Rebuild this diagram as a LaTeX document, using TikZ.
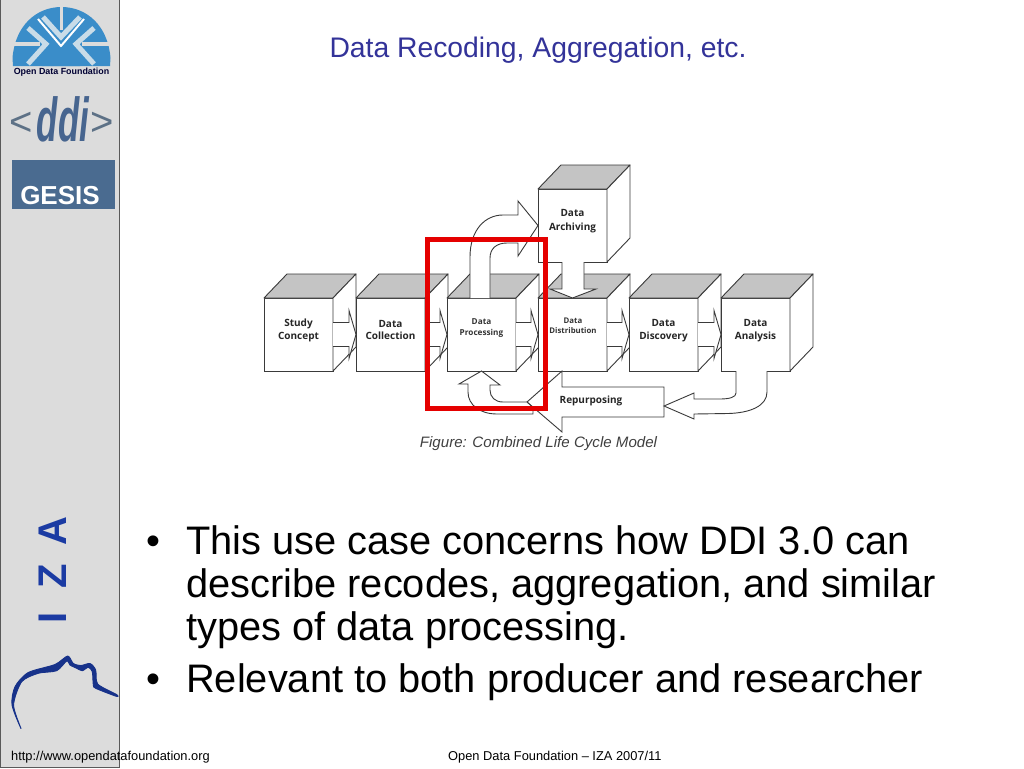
\documentclass[tikz,border=0pt]{standalone}
\usepackage{fontspec}
\setmainfont{Liberation Sans}
\newfontfamily\figfont{Open Sans}
\usetikzlibrary{calc}
\definecolor{panel}{HTML}{DCDCDC}
\definecolor{panelline}{HTML}{5A5A5A}
\definecolor{titleblue}{HTML}{333399}
\definecolor{odfblue}{HTML}{3A8DC9}
\definecolor{odfpale}{HTML}{C9DCE8}
\definecolor{ddiblue}{HTML}{47658F}
\definecolor{ddigray}{HTML}{5D7186}
\definecolor{gesisblue}{HTML}{4A6B90}
\definecolor{izablue}{HTML}{1B3BA3}
\definecolor{figline}{HTML}{3A3A3A}
\definecolor{topgray}{HTML}{C4C4C4}
\tikzset{
  front/.style={draw=figline,fill=white,line width=.9pt,minimum width=69pt,minimum height=73pt,inner sep=0pt,outer sep=0pt,anchor=north west},
  topface/.style={draw=figline,fill=topgray,line width=.9pt,line join=round},
  sideface/.style={draw=figline,fill=white,line width=.9pt,line join=round},
  flow/.style={draw=figline,fill=white,line width=.9pt,line join=miter},
  cubetext/.style={align=center,inner sep=0pt,text=black!85,font=\figfont\bfseries\fontsize{10}{13.5}\selectfont},
  cubesmall/.style={align=center,inner sep=0pt,text=black!80,font=\figfont\bfseries\fontsize{8.2}{11}\selectfont},
  bodytext/.style={anchor=base west,inner sep=0pt,font=\fontsize{39.8}{43}\selectfont},
  foot/.style={anchor=base west,inner sep=0pt,font=\fontsize{12.85}{15}\selectfont},
}
\newcommand\cubebox[3]{%
  \node[front] (#1) at (#2,#3) {};
  \draw[topface] (#1.north west) -- ++(23,-24) -- ++(69,0) -- (#1.north east) -- cycle;
  \draw[sideface] (#1.north east) -- ++(23,-24) -- ++(0,73) -- (#1.south east) -- cycle;
}
\newcommand\hflow[2]{%
  \draw[flow] ($(#1.east)+(0,-12)$) -| ($(#2.west)+(-7,-12)$) -- ($(#2.west)+(-7,-24)$) -- (#2.west)
     -- ($(#2.west)+(-7,24)$) -- ($(#2.west)+(-7,12)$) -- ($(#1.east)+(0,12)$);
}
\begin{document}
\begin{tikzpicture}[x=1pt,y=-1pt]
\useasboundingbox (0,0) rectangle (1024,768);
\fill[white] (0,0) rectangle (1024,768);
% side panel
\draw[draw=panelline,fill=panel,line width=1pt] (.5,-2) rectangle (119.5,767.5);
% ODF logo
\fill[odfblue] (13,66) -- (12.5,58) .. controls (15,26) and (36,7) .. (61.5,7) .. controls (87,7) and (108,26) .. (110.5,58) -- (110,66) -- cycle;
\draw[panel,line width=3pt] (61,5) -- (61,30);
\draw[panel,line width=4pt] (11,44) -- (40,44);
\draw[panel,line width=4pt] (82,44) -- (112,44);
\draw[odfpale,line width=5pt] (43,17) -- (61,37) -- (80,17);
\draw[odfpale,line width=5pt] (28,28) -- (46,44) -- (28,64);
\draw[odfpale,line width=5pt] (94,28) -- (76,44) -- (94,64);
\draw[white,line width=2pt] (38,19) -- (61,46) -- (84,19);
\fill[odfblue] (61,47) -- (42,66) -- (80,66) -- cycle;
\node[inner sep=0pt,text=black!80!blue,font=\bfseries\fontsize{8.9}{10}\selectfont] (odf) at (61.5,72.5) {Open Data Foundation};
% ddi logo
\node[inner sep=0pt,text=ddigray,font=\fontsize{40}{40}\selectfont] (ddil) at (21,124) {<};
\node[inner sep=0pt,text=ddigray,font=\fontsize{40}{40}\selectfont] (ddir) at (102,124) {>};
\node[inner sep=0pt,text=ddiblue,font=\bfseries\itshape\fontsize{62}{62}\selectfont,xscale=.56] (ddi) at (63,119) {ddi};
% GESIS
\node[fill=gesisblue,minimum width=103pt,minimum height=49pt,inner sep=0pt,outer sep=0pt,anchor=north west] (gesisbox) at (12,160) {};
\node[inner sep=0pt,anchor=base,text=white,font=\bfseries\fontsize{26}{26}\selectfont] (gesis) at (60,204) {GESIS};
% IZA
\node[rotate=90,inner sep=0pt,text=izablue,font=\bfseries\fontsize{40}{40}\selectfont,anchor=base] (izaA) at (66,531) {A};
\node[rotate=90,inner sep=0pt,text=izablue,font=\bfseries\fontsize{40}{40}\selectfont,anchor=base] (izaZ) at (66,576) {Z};
\node[rotate=90,inner sep=0pt,text=izablue,font=\bfseries\fontsize{40}{40}\selectfont,anchor=base] (izaI) at (66,618) {I};
% head profile
\filldraw[izablue!85!black,line width=.9pt,line join=round] plot[smooth cycle,tension=.45] coordinates {
 (21,728.5) (12,705) (15,686.7) (28.3,672.5) (55,664.5) (67.7,656) (73.3,663.5) (81,665.5) (90,663.5) (95.7,670) (97.7,684) (116.5,694.5)
 (116,696.2) (95.7,688.3) (93.3,685) (92.3,671.7) (88.3,667.3) (82.3,670.7) (76.7,668.3) (70,665) (66.7,661) (56.7,670.7) (38.3,673.3) (21.7,681.7) (13.6,705)};
% title
\node[anchor=base,inner sep=0pt,text=titleblue,font=\fontsize{28.3}{32}\selectfont] (title) at (538,58) {Data Recoding, Aggregation, etc.};
% cubes
\cubebox{study}{264}{298}
\cubebox{collect}{356}{298}
\cubebox{process}{447}{298}
\cubebox{archive}{538}{189}
\cubebox{distrib}{538}{298}
\cubebox{discover}{629}{298}
\cubebox{analysis}{721}{298}
% horizontal flows
\hflow{study}{collect}
\hflow{collect}{process}
\hflow{process}{distrib}
\hflow{distrib}{discover}
\hflow{discover}{analysis}
% processing -> archiving
\draw[flow] (470,298) -- (470,257) .. controls (470,230) and (485,215) .. (503,215) -- (518,215) -- (518,201) -- (archive.west)
  -- (518,256) -- (518,243) -- (507,243) .. controls (496,243) and (490,249) .. (490,258) -- (490,298);
% archiving -> distribution
\draw[flow] (562,262) -- (562,289) -- (550,289) -- (distrib.north) -- (596,289) -- (584,289) -- (584,262);
% repurposing
\draw[flow] (distrib.south) ++(-10.5,0) -- (562,387) -- (664,387) -- (664,417) -- (562,417) -- (562,432) -- (527,402) -- cycle;
\node[inner sep=0pt,text=black!85,font=\figfont\bfseries\fontsize{10}{12}\selectfont] (repurp) at (591,401) {Repurposing};
% repurposing -> processing
\draw[flow] (527,402) -- (503,402) .. controls (495,402) and (490,397) .. (490,390) -- (490,385) -- (500,385) -- (process.south)
  -- (459,384) -- (468,384) -- (468,392) .. controls (468,405) and (480,414) .. (497,414) -- (533,414) -- (533,407.5) -- cycle;
% analysis -> repurposing
\draw[flow] (767,371) -- (767,392) .. controls (767,406) and (750,413) .. (728,413.5) -- (694,414) -- (694,419) -- (664,406) -- (694,393) -- (694,399)
  -- (720,399) .. controls (730,399) and (736,397) .. (736,393) -- (736,371);
% cube labels
\node[cubetext] (t1) at ($(study.center)+(0,-4)$) {Study\\Concept};
\node[cubetext,font=\figfont\bfseries\fontsize{10}{12}\selectfont] (t2) at ($(collect.center)+(0,-5)$) {Data\\Collection};
\node[cubesmall] (t3) at ($(process.center)+(0,-6)$) {Data\\Processing};
\node[cubesmall,font=\figfont\bfseries\fontsize{7.8}{10.5}\selectfont] (t4) at ($(distrib.center)+(.5,-9)$) {Data\\Distribution};
\node[cubetext] (t5) at ($(discover.center)+(0,-4)$) {Data\\Discovery};
\node[cubetext] (t6) at ($(analysis.center)+(0,-4)$) {Data\\Analysis};
\node[cubetext] (t7) at ($(archive.center)+(0,-4.5)$) {Data\\Archiving};
% caption
\node[anchor=base,inner sep=0pt,text=black!75,font=\itshape\fontsize{15.1}{17}\selectfont] (caption) at (538.5,447) {Figure: Combined Life Cycle Model};
% red highlight
\draw[red!90!black,line width=4.5pt] (427.5,239.5) rectangle (545.5,408.5);
% bullets
\node[bodytext] (b1) at (146,554) {•};
\node[bodytext] (l1) at (186,554) {This use case concerns how DDI 3.0 can};
\node[bodytext] (l2) at (186,597) {describe recodes, aggregation, and similar};
\node[bodytext] (l3) at (186,640) {types of data processing.};
\node[bodytext] (b2) at (146,692) {•};
\node[bodytext] (l4) at (186,692) {Relevant to both producer and researcher};
% footer
\node[foot] (f1) at (11,760) {http://www.opendatafoundation.org};
\node[foot] (f2) at (448,760) {Open Data Foundation – IZA 2007/11};
\end{tikzpicture}
\end{document}
